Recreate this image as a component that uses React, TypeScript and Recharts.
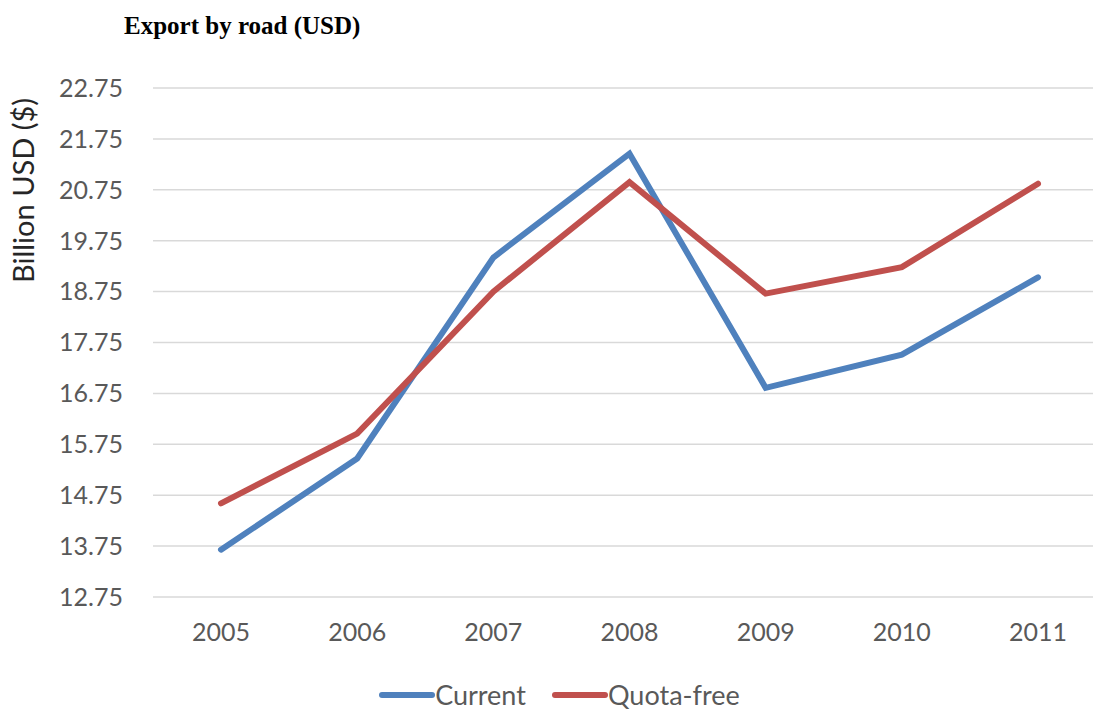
import { LineChart, Line, XAxis, YAxis, CartesianGrid, Legend } from "recharts"

const years = ["2005", "2006", "2007", "2008", "2009", "2010", "2011"]
const current = [13.68, 15.47, 19.42, 21.46, 16.86, 17.51, 19.03]
const quotaFree = [14.59, 15.96, 18.75, 20.9, 18.71, 19.23, 20.87]
const yTicks = [12.75, 13.75, 14.75, 15.75, 16.75, 17.75, 18.75, 19.75, 20.75, 21.75, 22.75]

const BLUE = "#4F81BD"
const RED = "#C0504D"
const FONT = "Lato, 'Open Sans', sans-serif"

const data = years.map((y, i) => ({ year: y, current: current[i], quotaFree: quotaFree[i] }))

function CustomLegend() {
  const items = [
    { label: "Current", color: BLUE },
    { label: "Quota-free", color: RED },
  ]
  return (
    <div style={{ display: "flex", justifyContent: "center", gap: 26, paddingLeft: 26, fontFamily: FONT }}>
      {items.map((it) => (
        <div key={it.label} style={{ display: "flex", alignItems: "center" }}>
          <svg width={56} height={10}>
            <line x1={3} y1={5} x2={53} y2={5} stroke={it.color} strokeWidth={6} strokeLinecap="round" />
          </svg>
          <span style={{ fontSize: 27, lineHeight: "26px", color: "#595959" }}>{it.label}</span>
        </div>
      ))}
    </div>
  )
}

export default function App() {
  return (
    <div style={{ position: "absolute", left: 0, top: 0, width: 1093, height: 711, background: "#fff" }}>
      <div
        style={{
          position: "absolute",
          left: 124,
          top: 11,
          fontFamily: "'Liberation Serif', 'Times New Roman', serif",
          fontWeight: "bold",
          fontSize: 25,
          lineHeight: "30px",
          color: "#000",
        }}
      >
        Export by road (USD)
      </div>
      <LineChart width={1093} height={711} data={data} margin={{ top: 88, right: 0, bottom: 58, left: 0 }}>
        <CartesianGrid vertical={false} stroke="#D9D9D9" strokeWidth={1.5} />
        <XAxis
          dataKey="year"
          axisLine={false}
          tickLine={false}
          tickSize={0}
          tickMargin={26}
          padding={{ left: 68, right: 55 }}
          tick={{ fontSize: 25, fill: "#595959", fontFamily: FONT }}
        />
        <YAxis
          domain={[12.75, 22.75]}
          ticks={yTicks}
          tickFormatter={(v) => v.toFixed(2)}
          width={153}
          axisLine={false}
          tickLine={false}
          tickSize={0}
          tickMargin={30}
          tick={{ fontSize: 25, fill: "#595959", fontFamily: FONT }}
          label={{
            value: "Billion USD ($)",
            angle: -90,
            position: "insideLeft",
            offset: 24,
            dy: -152,
            style: { fontSize: 29, fill: "#262626", fontFamily: FONT, textAnchor: "middle" },
          }}
        />
        <Legend verticalAlign="bottom" content={<CustomLegend />} wrapperStyle={{ top: 682, left: 0, width: 1093 }} />
        <Line
          type="linear"
          dataKey="current"
          name="Current"
          stroke={BLUE}
          strokeWidth={6}
          strokeLinecap="round"
          dot={false}
          isAnimationActive={false}
        />
        <Line
          type="linear"
          dataKey="quotaFree"
          name="Quota-free"
          stroke={RED}
          strokeWidth={6}
          strokeLinecap="round"
          dot={false}
          isAnimationActive={false}
        />
      </LineChart>
    </div>
  )
}
